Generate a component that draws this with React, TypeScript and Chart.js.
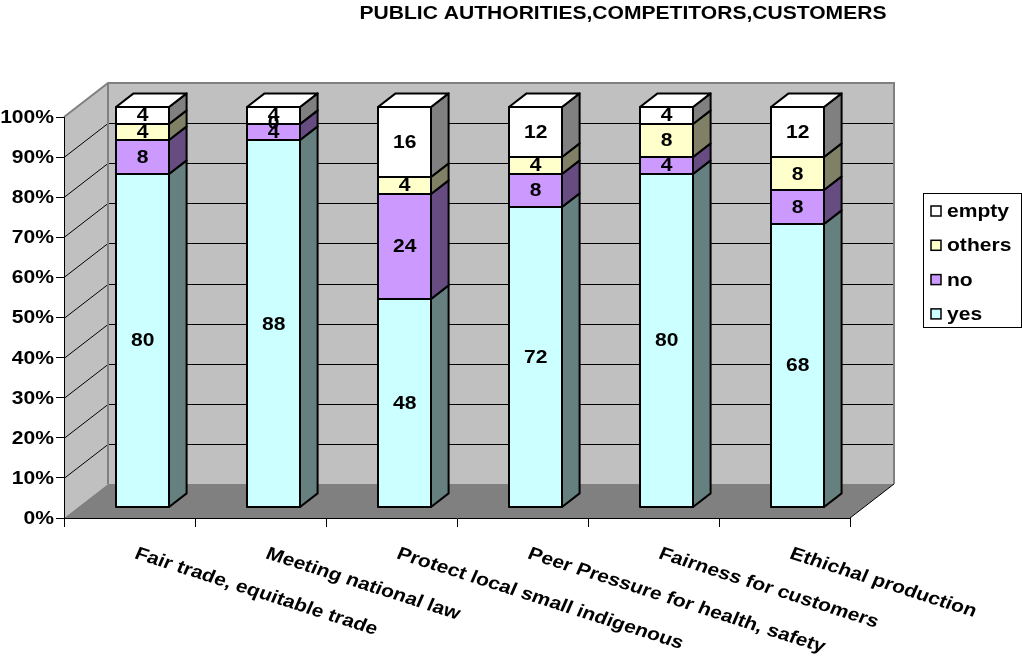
import React, { useEffect, useRef } from 'react';
import { Chart, registerables } from 'chart.js';

Chart.register(...registerables);

// ---------- data ----------
const title = 'PUBLIC AUTHORITIES,COMPETITORS,CUSTOMERS';
const categories = [
  'Fair trade, equitable trade',
  'Meeting national law',
  'Protect local small indigenous',
  'Peer Pressure for health, safety',
  'Fairness for customers',
  'Ethichal production',
];
const seriesNames = ['yes', 'no', 'others', 'empty'];
const yesValues = [80, 88, 48, 72, 80, 68];
const noValues = [8, 4, 24, 8, 4, 8];
const othersValues = [4, 0, 4, 4, 8, 8];
const emptyValues = [4, 4, 16, 12, 4, 12];
const yTickValues = [0, 10, 20, 30, 40, 50, 60, 70, 80, 90, 100];

// ---------- styles ----------
const frontColors = ['#CCFFFF', '#CC99FF', '#FFFFCC', '#FFFFFF'];
const sideColors = ['#668080', '#664C80', '#808066', '#808080'];
const FONT = 'bold 18px "Liberation Sans", Arial, sans-serif';
const SX = 1.17; // horizontal text stretch
const WALL = { x: 44, y: -34 };
const BAR_FRONT = { x: WALL.x * 0.3, y: WALL.y * 0.3 };
const BAR_DEPTH = { x: WALL.x * 0.4, y: WALL.y * 0.4 };

const rawSeries = [yesValues, noValues, othersValues, emptyValues];
const totals = categories.map((_, i) => rawSeries.reduce((s, arr) => s + arr[i], 0));
const pctSeries = rawSeries.map((arr) => arr.map((v, i) => (v / totals[i]) * 100));

function drawText(
  ctx: CanvasRenderingContext2D,
  text: string,
  x: number,
  y: number,
  align: CanvasTextAlign,
  baseline: CanvasTextBaseline,
  rot = 0
) {
  ctx.save();
  ctx.translate(x, y);
  ctx.scale(SX, 1);
  if (rot) ctx.rotate(rot);
  ctx.font = FONT;
  ctx.fillStyle = '#000';
  ctx.textAlign = align;
  ctx.textBaseline = baseline;
  ctx.fillText(text, 0, 0);
  ctx.restore();
}

const chart3dPlugin = {
  id: 'chart3d',
  beforeDraw(chart: any) {
    const { ctx, chartArea } = chart;
    const yScale = chart.scales.y;
    const L = chartArea.left;
    const R = chartArea.right;
    const T = yScale.getPixelForValue(100);
    const B = yScale.getPixelForValue(0);
    ctx.save();
    // left wall
    ctx.fillStyle = '#C0C0C0';
    ctx.beginPath();
    ctx.moveTo(L, T);
    ctx.lineTo(L + WALL.x, T + WALL.y);
    ctx.lineTo(L + WALL.x, B + WALL.y);
    ctx.lineTo(L, B);
    ctx.closePath();
    ctx.fill();
    // back wall
    ctx.fillRect(L + WALL.x, T + WALL.y, R - L, B - T);
    // floor
    ctx.fillStyle = '#808080';
    ctx.beginPath();
    ctx.moveTo(L, B);
    ctx.lineTo(R, B);
    ctx.lineTo(R + WALL.x, B + WALL.y);
    ctx.lineTo(L + WALL.x, B + WALL.y);
    ctx.closePath();
    ctx.fill();
    // gridlines
    ctx.strokeStyle = '#000';
    ctx.lineWidth = 1;
    for (const v of yTickValues) {
      if (v === 0 || v === 100) continue;
      const y = Math.round(yScale.getPixelForValue(v)) + 0.5;
      ctx.beginPath();
      ctx.moveTo(L, y);
      ctx.lineTo(L + WALL.x, y + WALL.y);
      ctx.lineTo(R + WALL.x, y + WALL.y);
      ctx.stroke();
    }
    // wall edges
    ctx.strokeStyle = '#808080';
    ctx.lineWidth = 2;
    ctx.beginPath();
    ctx.moveTo(L, T);
    ctx.lineTo(L + WALL.x, T + WALL.y);
    ctx.lineTo(R + WALL.x, T + WALL.y);
    ctx.lineTo(R + WALL.x, B + WALL.y);
    ctx.moveTo(L + WALL.x, T + WALL.y);
    ctx.lineTo(L + WALL.x, B + WALL.y);
    ctx.stroke();
    ctx.strokeStyle = '#000';
    ctx.lineWidth = 1;
    ctx.beginPath();
    ctx.moveTo(R, B);
    ctx.lineTo(R + WALL.x, B + WALL.y);
    ctx.stroke();
    ctx.restore();
  },
  beforeDatasetsDraw(chart: any) {
    chart.ctx.save();
    chart.ctx.translate(BAR_FRONT.x, BAR_FRONT.y);
  },
  afterDatasetsDraw(chart: any) {
    const { ctx } = chart;
    ctx.restore();
    ctx.save();
    ctx.lineWidth = 2;
    ctx.strokeStyle = '#000';
    ctx.lineJoin = 'round';
    const n = chart.data.datasets.length;
    for (let d = 0; d < n; d++) {
      const meta = chart.getDatasetMeta(d);
      meta.data.forEach((el: any) => {
        const { x, y, base, width } = el.getProps(['x', 'y', 'base', 'width'], true);
        const left = Math.round(x - width / 2 + BAR_FRONT.x);
        const right = Math.round(x + width / 2 + BAR_FRONT.x);
        const top = Math.round(y + BAR_FRONT.y);
        const bottom = Math.round(base + BAR_FRONT.y);
        // front outline
        ctx.strokeRect(left, top, right - left, bottom - top);
        // side face
        ctx.fillStyle = sideColors[d];
        ctx.beginPath();
        ctx.moveTo(right, top);
        ctx.lineTo(right + BAR_DEPTH.x, top + BAR_DEPTH.y);
        ctx.lineTo(right + BAR_DEPTH.x, bottom + BAR_DEPTH.y);
        ctx.lineTo(right, bottom);
        ctx.closePath();
        ctx.fill();
        ctx.stroke();
        if (d === n - 1) {
          ctx.fillStyle = frontColors[d];
          ctx.beginPath();
          ctx.moveTo(left, top);
          ctx.lineTo(left + BAR_DEPTH.x, top + BAR_DEPTH.y);
          ctx.lineTo(right + BAR_DEPTH.x, top + BAR_DEPTH.y);
          ctx.lineTo(right, top);
          ctx.closePath();
          ctx.fill();
          ctx.stroke();
        }
      });
    }
    ctx.restore();
    // value labels
    for (let d = 0; d < n; d++) {
      const meta = chart.getDatasetMeta(d);
      meta.data.forEach((el: any, i: number) => {
        const { x, y, base } = el.getProps(['x', 'y', 'base'], true);
        drawText(
          ctx,
          String(rawSeries[d][i]),
          x + BAR_FRONT.x,
          (y + base) / 2 + BAR_FRONT.y + 1,
          'center',
          'middle'
        );
      });
    }
  },
  afterDraw(chart: any) {
    const { ctx, chartArea } = chart;
    const xScale = chart.scales.x;
    const yScale = chart.scales.y;
    // y tick labels
    for (const v of yTickValues) {
      drawText(ctx, v + '%', chartArea.left - 10, yScale.getPixelForValue(v) + 1, 'right', 'middle');
    }
    // x labels
    categories.forEach((c, i) => {
      drawText(ctx, c, xScale.getPixelForValue(i) + 4, chartArea.bottom + 40, 'left', 'alphabetic', (20.5 * Math.PI) / 180);
    });
    // title
    drawText(ctx, title, 623, 19, 'center', 'alphabetic');
    // legend
    ctx.save();
    ctx.strokeStyle = '#000';
    ctx.lineWidth = 1;
    ctx.strokeRect(923.5, 193.5, 98, 134);
    const order = [3, 2, 1, 0];
    order.forEach((d, k) => {
      const cy = 211 + k * 34.3;
      ctx.fillStyle = frontColors[d];
      ctx.fillRect(931, cy - 5, 10, 10);
      ctx.lineWidth = 1.5;
      ctx.strokeRect(931, cy - 5, 10, 10);
      drawText(ctx, seriesNames[d], 947, cy + 1, 'left', 'middle');
    });
    ctx.restore();
  },
};

export default function App() {
  const ref = useRef<HTMLCanvasElement | null>(null);
  useEffect(() => {
    if (!ref.current) return;
    const chart = new Chart(ref.current, {
      type: 'bar',
      data: {
        labels: categories,
        datasets: seriesNames.map((name, d) => ({
          label: name,
          data: pctSeries[d],
          backgroundColor: frontColors[d],
          borderWidth: 0,
          clip: false as any,
          barPercentage: 0.405,
          categoryPercentage: 1,
        })),
      },
      options: {
        animation: false,
        responsive: false,
        devicePixelRatio: 1,
        layout: { padding: { left: 0, right: 172, top: 117, bottom: 0 } },
        plugins: {
          legend: { display: false },
          title: { display: false },
          tooltip: { enabled: false },
        },
        scales: {
          x: {
            stacked: true,
            grid: { display: true, drawOnChartArea: false, drawTicks: true, tickLength: 9, color: '#000', offset: true },
            border: { display: true, color: '#000', width: 1 },
            ticks: { display: false },
            afterFit: (s: any) => {
              s.height = 139;
            },
          },
          y: {
            stacked: true,
            min: 0,
            max: 100,
            grid: { display: true, drawOnChartArea: false, drawTicks: true, tickLength: 8, color: '#000' },
            border: { display: true, color: '#000', width: 1 },
            ticks: { display: false, stepSize: 10 },
            afterFit: (s: any) => {
              s.width = 64;
            },
          },
        },
      },
      plugins: [chart3dPlugin],
    });
    return () => chart.destroy();
  }, []);
  return (
    <div style={{ position: 'fixed', left: 0, top: 0, width: 1022, height: 657, background: '#fff' }}>
      <canvas ref={ref} width={1022} height={657} style={{ display: 'block' }} />
    </div>
  );
}
